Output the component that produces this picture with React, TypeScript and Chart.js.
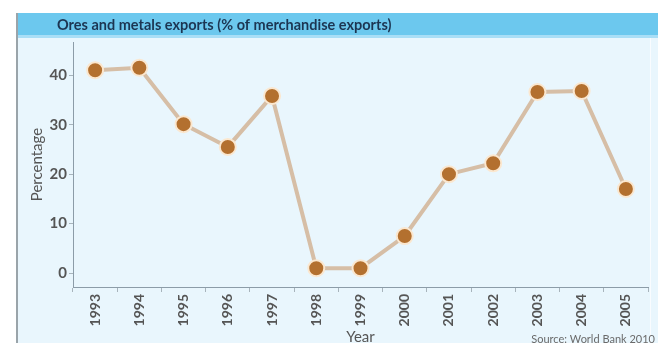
import React, { useEffect, useRef } from "react";
import { Chart, registerables } from "chart.js";

Chart.register(...registerables);

const years = ["1993","1994","1995","1996","1997","1998","1999","2000","2001","2002","2003","2004","2005"];
const percentage = [41.0, 41.5, 30.1, 25.5, 35.8, 1.0, 1.0, 7.5, 20.0, 22.2, 36.6, 36.8, 17.0];
const yTicks = [0, 10, 20, 30, 40];
const titleText = "Ores and metals exports (% of merchandise exports)";
const sourceText = "Source: World Bank 2010";

const W = 658;
const H = 343;
const FONT = "Lato, 'Open Sans', sans-serif";

const backgroundPlugin = {
  id: "panelBg",
  beforeDraw(chart: any) {
    const ctx = chart.ctx;
    ctx.save();
    ctx.fillStyle = "#ffffff";
    ctx.fillRect(0, 0, W, H);
    ctx.fillStyle = "#e9f6fd";
    ctx.fillRect(17, 13, W - 17, H - 13);
    ctx.fillStyle = "#6cc8ee";
    ctx.fillRect(17, 13, W - 17, 23);
    ctx.fillStyle = "#a9def6";
    ctx.fillRect(17, 35, W - 17, 3);
    ctx.strokeStyle = "#9aa4aa";
    ctx.lineWidth = 2;
    ctx.beginPath();
    ctx.moveTo(17, 13);
    ctx.lineTo(17, H);
    ctx.stroke();
    ctx.strokeStyle = "rgba(255,255,255,0.7)";
    ctx.lineWidth = 1;
    ctx.beginPath();
    ctx.moveTo(650.5, 38);
    ctx.lineTo(650.5, H);
    ctx.stroke();
    ctx.fillStyle = "#1c3552";
    ctx.font = "bold 14.5px " + FONT;
    ctx.textAlign = "left";
    ctx.textBaseline = "middle";
    ctx.fillText(titleText, 57, 25);
    ctx.fillStyle = "#6a6a6a";
    ctx.font = "11px " + FONT;
    ctx.textAlign = "right";
    ctx.textBaseline = "middle";
    ctx.fillText(sourceText, 655, 339);
    ctx.restore();
  },
};

export default function App() {
  const ref = useRef<HTMLCanvasElement | null>(null);
  useEffect(() => {
    if (!ref.current) return;
    const chart = new Chart(ref.current, {
      type: "line",
      data: {
        labels: years,
        datasets: [
          {
            data: percentage,
            borderColor: "#d6bea6",
            borderWidth: 4,
            pointRadius: 8,
            pointHoverRadius: 8,
            pointBackgroundColor: "#b3702f",
            pointBorderColor: "#fbe7cf",
            pointBorderWidth: 2,
            tension: 0,
          },
        ],
      },
      options: {
        responsive: false,
        animation: false,
        layout: { padding: { top: 42, left: 0, right: 0, bottom: 0 } },
        plugins: { legend: { display: false }, tooltip: { enabled: false } },
        scales: {
          x: {
            offset: true,
            grid: { display: true, drawOnChartArea: false, color: "#a8b4bc", tickLength: 5, offset: true },
            border: { display: true, color: "#8c9ca8", width: 1 },
            ticks: {
              minRotation: 90,
              maxRotation: 90,
              padding: 2,
              color: "#555555",
              font: { family: FONT, size: 14, weight: "bold" },
            },
            title: {
              display: true,
              text: "Year",
              color: "#555555",
              font: { family: FONT, size: 15, lineHeight: 1 },
              padding: { top: 0, bottom: -2 },
            },
            afterFit(scale: any) {
              scale.height = 56;
            },
          },
          y: {
            min: -2.8,
            max: 46.7,
            grid: { display: true, drawOnChartArea: false, color: "#a8b4bc", tickLength: 4 },
            border: { display: true, color: "#8c9ca8", width: 1 },
            afterBuildTicks(scale: any) {
              scale.ticks = yTicks.map((v) => ({ value: v }));
            },
            ticks: {
              padding: 2,
              color: "#555555",
              font: { family: FONT, size: 15, weight: "bold" },
            },
            title: {
              display: true,
              text: "Percentage",
              color: "#555555",
              font: { family: FONT, size: 15, lineHeight: 1.2 },
              padding: { top: 28, bottom: 0 },
            },
            afterFit(scale: any) {
              scale.width = 73;
            },
          },
        },
      },
      plugins: [backgroundPlugin],
    });
    return () => chart.destroy();
  }, []);
  return (
    <div style={{ position: "fixed", left: 0, top: 0, width: W, height: H }}>
      <canvas ref={ref} width={W} height={H} style={{ display: "block", width: W, height: H }} />
    </div>
  );
}
